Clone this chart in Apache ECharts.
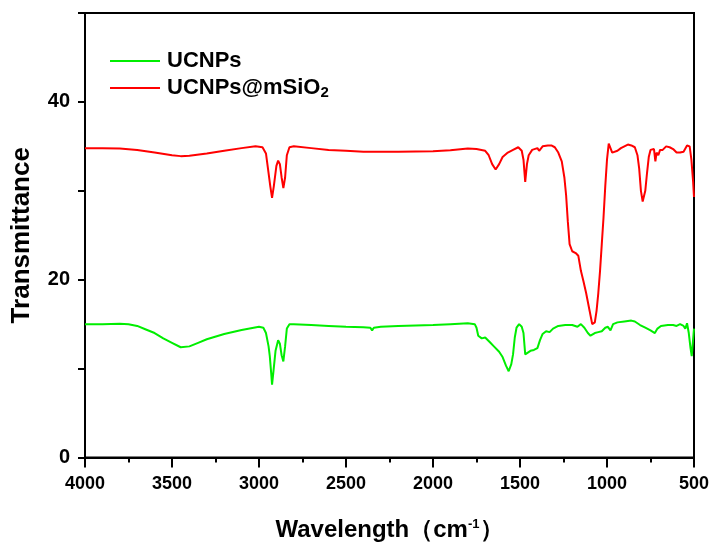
<!DOCTYPE html>
<html>
<head>
<meta charset="utf-8">
<script src="https://cdn.jsdelivr.net/npm/echarts@6.0.0/dist/echarts.min.js"></script>
<style>
    html, body {margin: 0; padding: 0; background: #fff;}
    #chart {width: 715px; height: 547px;}
</style>
</head>
<body>
<div id="chart"></div>
<script>
// series names
const seriesNames = ['UCNPs', 'UCNPs@mSiO2'];

// UCNPs@mSiO2 (red)
const redWave = [4000,3900,3800,3700,3600,3500,3450,3400,3300,3200,3100,3020,2980,2960,2945,2935,2925,2915,2900,2890,2880,2870,2860,2850,2840,2825,2800,2700,2600,2500,2400,2360,2350,2340,2200,2000,1900,1800,1750,1700,1680,1660,1640,1620,1600,1570,1540,1510,1490,1480,1470,1460,1450,1430,1420,1400,1390,1370,1340,1320,1300,1280,1260,1245,1235,1225,1215,1200,1180,1165,1150,1135,1120,1100,1085,1078,1070,1060,1050,1040,1030,1020,1010,1000,990,980,970,960,940,920,900,880,860,840,825,815,805,795,788,780,770,760,750,740,730,722,715,705,695,680,660,640,620,600,580,560,540,525,515,505,500];
const redValue = [34.8,34.8,34.75,34.6,34.3,34.0,33.9,33.95,34.2,34.5,34.8,35.0,34.9,34.2,32.0,30.5,29.2,30.5,32.8,33.4,33.0,31.5,30.3,31.5,34.0,34.9,35.0,34.8,34.6,34.5,34.4,34.4,34.2,34.4,34.4,34.45,34.55,34.75,34.7,34.5,34.0,33.0,32.4,33.0,33.8,34.3,34.6,34.9,34.5,33.5,31.0,33.0,34.0,34.6,34.4,34.8,34.5,35.0,35.1,35.1,34.9,34.3,33.3,31.5,29.5,26.5,24.0,23.2,23.0,22.7,21.0,19.8,18.5,16.5,15.0,14.8,15.2,16.5,18.5,21.0,24.0,27.0,30.5,33.5,35.3,35.2,34.3,34.1,34.5,34.8,35.0,35.2,35.1,34.9,34.0,32.5,30.0,28.8,29.0,30.0,32.0,33.8,34.6,34.8,34.7,33.3,34.3,34.0,34.6,34.6,35.0,34.9,34.7,34.3,34.3,34.4,35.1,35.0,33.5,31.0,29.3];

// UCNPs (green)
const greenWave = [4000,3900,3800,3750,3700,3650,3600,3550,3500,3450,3400,3350,3300,3200,3100,3000,2975,2960,2945,2938,2930,2925,2918,2905,2890,2880,2870,2860,2850,2840,2825,2800,2700,2600,2500,2400,2360,2350,2340,2300,2200,2100,2000,1900,1800,1760,1750,1740,1730,1720,1700,1690,1670,1650,1620,1600,1580,1565,1550,1540,1530,1520,1505,1490,1480,1470,1455,1440,1420,1400,1385,1370,1350,1330,1310,1280,1240,1200,1170,1150,1130,1110,1095,1070,1050,1030,1010,995,980,965,940,900,860,840,810,780,750,725,710,690,650,620,600,580,560,550,540,530,520,513,506,500];
const greenValue = [15.0,15.0,15.05,15.0,14.8,14.4,14.0,13.4,12.9,12.4,12.5,12.9,13.3,13.9,14.35,14.7,14.6,14.0,12.5,11.4,9.5,8.2,9.5,12.0,13.2,12.8,11.5,10.8,12.5,14.5,15.0,15.0,14.9,14.8,14.7,14.65,14.6,14.3,14.6,14.7,14.8,14.85,14.9,15.0,15.1,15.0,14.6,13.7,13.6,13.4,13.5,13.3,12.9,12.5,11.9,11.3,10.3,9.7,10.5,11.6,13.5,14.6,15.0,14.7,14.0,11.6,11.8,12.0,12.1,12.3,13.2,13.9,14.2,14.1,14.5,14.8,14.9,14.9,14.7,15.0,14.6,14.0,13.7,14.0,14.1,14.2,14.6,14.7,14.3,15.0,15.2,15.3,15.4,15.3,14.9,14.6,14.3,14.0,14.5,14.8,14.9,14.9,14.8,15.0,14.8,14.5,15.1,14.0,12.3,11.4,11.6,14.5];

function pairs(xs, ys) {
    let out = [];
    xs.forEach((x, i) => out.push([x, ys[i]]));
    return out;
}

let myChart = echarts.init(document.getElementById('chart'));

const boldFont = {
    fontFamily: 'Arial, "Liberation Sans", sans-serif',
    fontWeight: 'bold',
    color: '#000'
};

let option = {
    animation: false,
    color: ['#00ee00', '#ff0000'],
    grid: {
        left: 85, right: 21, top: 13, bottom: 89,
        show: true,
        borderColor: '#000',
        borderWidth: 2
    },
    legend: {
        left: 110,
        top: 49,
        padding: 0,
        orient: 'vertical',
        icon: 'rect',
        itemWidth: 50,
        itemHeight: 2,
        itemGap: 3,
        data: seriesNames,
        formatter: name => name === 'UCNPs@mSiO2' ? 'UCNPs@mSiO{sub|2}' : name,
        textStyle: {
            ...boldFont,
            fontSize: 22,
            lineHeight: 24,
            padding: [0, 0, 0, 2],
            rich: {
                sub: {
                    ...boldFont,
                    fontSize: 15,
                    verticalAlign: 'bottom',
                    padding: [13, 0, 0, 0]
                }
            }
        }
    },
    xAxis: {
        type: 'value',
        min: 500,
        max: 4000,
        interval: 500,
        inverse: true,
        name: 'Wavelength（cm{sup|-1}）',
        nameLocation: 'middle',
        nameGap: 60,
        nameTextStyle: {
            ...boldFont,
            fontSize: 24,
            rich: {
                sup: {
                    ...boldFont,
                    fontSize: 13,
                    verticalAlign: 'top',
                    padding: [0, 0, 12, 0]
                }
            }
        },
        axisLine: {lineStyle: {color: '#000', width: 2}},
        axisTick: {inside: false, length: 10, lineStyle: {color: '#000', width: 2}},
        minorTick: {show: true, splitNumber: 2, length: 5, lineStyle: {color: '#000', width: 2}},
        axisLabel: {...boldFont, fontSize: 18, margin: 18, formatter: v => String(v)},
        splitLine: {show: false}
    },
    yAxis: {
        type: 'value',
        min: 0,
        max: 50,
        interval: 10,
        name: 'Transmittance',
        nameLocation: 'middle',
        nameGap: 50,
        nameTextStyle: {...boldFont, fontSize: 26},
        axisLine: {show: true, lineStyle: {color: '#000', width: 2}},
        axisTick: {show: true, inside: false, length: 7, lineStyle: {color: '#000', width: 2}},
        axisLabel: {
            ...boldFont,
            fontSize: 20,
            margin: 15,
            formatter: v => (v % 20 === 0 && v < 50) ? String(v) : ''
        },
        splitLine: {show: false}
    },
    series: [
        {
            name: 'UCNPs',
            type: 'line',
            symbol: 'none',
            lineStyle: {width: 2},
            data: pairs(greenWave, greenValue)
        },
        {
            name: 'UCNPs@mSiO2',
            type: 'line',
            symbol: 'none',
            lineStyle: {width: 2},
            data: pairs(redWave, redValue)
        }
    ]
};

myChart.setOption(option);
</script>
</body>
</html>
